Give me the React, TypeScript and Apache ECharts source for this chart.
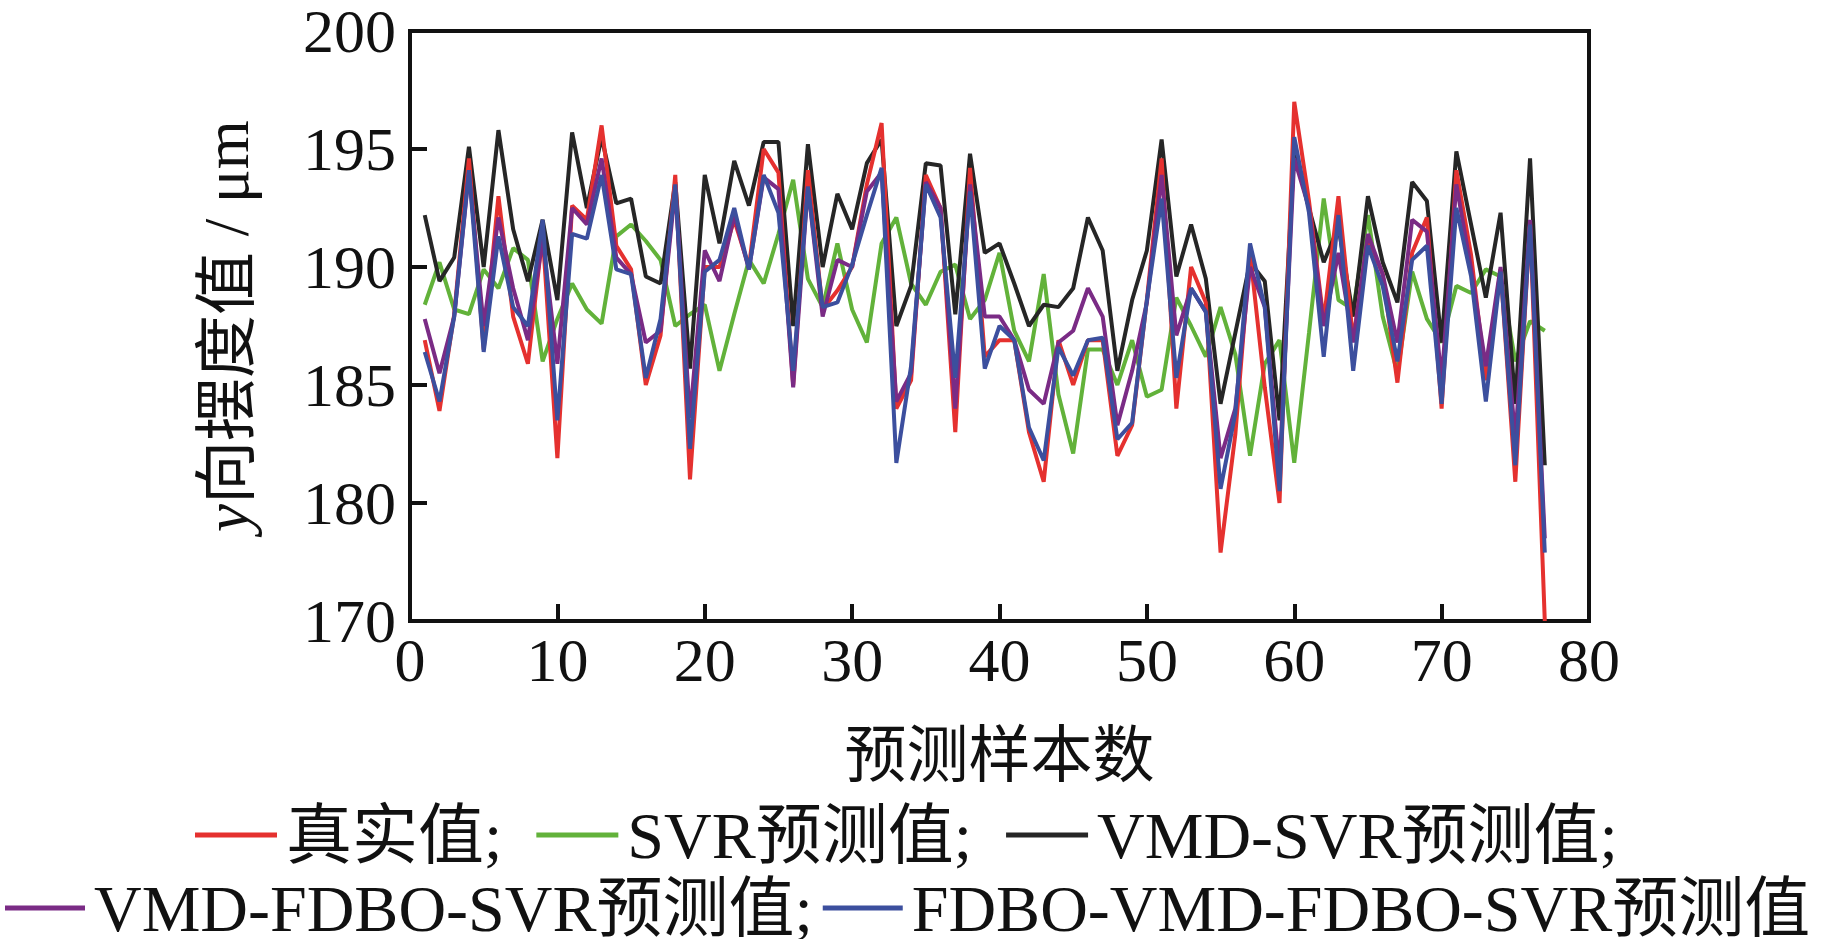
import React, { useEffect, useRef } from "react";
import * as echarts from "echarts";

// sample index is position+1 (1..77)
const trueValues = [
  186.9, 183.9, 188.0, 194.6, 186.5, 193.0, 187.9, 185.9, 191.4, 181.9,
  192.6, 192.0, 196.0, 190.9, 189.9, 185.0, 187.1, 193.9, 181.0, 190.0,
  190.0, 192.0, 190.0, 195.0, 194.0, 185.0, 194.1, 188.2, 189.0, 190.0,
  193.5, 196.1, 184.0, 185.2, 193.9, 192.5, 183.0, 194.2, 186.2, 186.9,
  186.9, 183.0, 180.9, 186.9, 185.0, 186.9, 186.9, 182.0, 183.3, 188.6,
  194.6, 184.0, 190.0, 188.5, 177.9, 182.9, 190.6, 184.9, 180.0, 197.0,
  192.8, 187.7, 193.0, 186.9, 191.2, 189.7, 185.1, 190.6, 192.1, 184.0,
  194.1, 190.5, 185.2, 189.9, 180.9, 191.9, 175.0,
];
const svrValues = [
  188.4, 190.2, 188.2, 188.0, 189.9, 189.1, 190.8, 190.3, 186.0, 187.8,
  189.3, 188.2, 187.6, 191.3, 191.8, 191.1, 190.3, 187.5, 188.0, 188.4,
  185.6, 188.0, 190.3, 189.3, 191.4, 193.7, 189.5, 188.3, 191.0, 188.2,
  186.8, 191.0, 192.1, 189.3, 188.4, 189.8, 190.1, 187.8, 188.6, 190.6,
  187.3, 186.0, 189.7, 184.6, 182.1, 186.5, 186.5, 185.0, 186.9, 184.5,
  184.8, 188.7, 187.5, 186.2, 188.3, 186.3, 182.0, 185.9, 186.9, 181.7,
  187.2, 192.9, 188.6, 188.2, 192.2, 187.9, 185.5, 189.8, 187.8, 186.8,
  189.2, 188.9, 189.9, 189.6, 186.0, 187.7, 187.3,
];
const vmdSvrValues = [
  192.2, 189.4, 190.4, 195.1, 190.0, 195.8, 191.6, 189.4, 192.0, 188.6,
  195.7, 192.5, 195.5, 192.7, 192.9, 189.6, 189.3, 193.6, 185.7, 193.9,
  191.0, 194.5, 192.6, 195.3, 195.3, 187.5, 195.2, 190.0, 193.1, 191.6,
  194.4, 195.4, 187.5, 189.2, 194.4, 194.3, 188.0, 194.8, 190.6, 191.0,
  189.3, 187.5, 188.4, 188.3, 189.1, 192.1, 190.7, 185.6, 188.6, 190.7,
  195.4, 189.6, 191.8, 189.5, 184.2, 187.2, 190.2, 189.4, 183.5, 194.9,
  192.5, 190.2, 191.7, 187.9, 193.0, 190.2, 188.5, 193.6, 192.8, 186.8,
  194.9, 191.8, 188.7, 192.3, 184.2, 194.6, 181.6,
];
const vmdFdboSvrValues = [
  187.8, 185.5, 187.9, 194.0, 187.5, 192.1, 189.1, 186.9, 191.2, 185.9,
  192.5, 191.8, 194.6, 190.4, 189.7, 186.8, 187.3, 193.3, 183.6, 190.7,
  189.4, 192.2, 189.9, 193.8, 193.3, 184.9, 193.4, 187.9, 190.3, 190.0,
  193.2, 194.0, 184.3, 185.5, 193.6, 192.5, 184.0, 193.5, 187.9, 187.9,
  186.9, 184.8, 184.2, 186.8, 187.3, 189.1, 187.9, 183.3, 185.6, 188.5,
  193.9, 187.1, 189.1, 188.1, 181.9, 184.0, 190.0, 188.3, 181.4, 194.6,
  192.5, 187.5, 190.6, 186.8, 191.4, 189.7, 186.8, 192.0, 191.5, 185.2,
  193.5, 189.9, 185.8, 190.0, 182.7, 192.0, 178.5,
];
const fdboVmdFdboSvrValues = [
  186.4, 184.3, 187.9, 194.1, 186.4, 191.3, 188.3, 187.5, 192.0, 183.5,
  191.4, 191.2, 193.9, 189.9, 189.7, 185.3, 187.8, 193.5, 182.3, 189.8,
  190.3, 192.5, 189.9, 193.9, 192.3, 185.6, 193.4, 188.3, 188.5, 190.1,
  192.2, 194.2, 181.7, 185.8, 193.5, 192.1, 185.3, 193.2, 185.7, 187.5,
  186.9, 183.2, 181.8, 186.6, 185.4, 186.9, 187.0, 182.7, 183.4, 188.6,
  192.9, 185.3, 189.1, 188.1, 180.6, 183.8, 191.0, 188.3, 180.5, 195.5,
  192.3, 186.2, 192.2, 185.6, 190.9, 189.2, 186.0, 190.3, 190.9, 184.2,
  192.5, 189.6, 184.3, 189.8, 181.6, 191.8, 177.9,
];

const seriesNames = [
  "真实值",
  "SVR预测值",
  "VMD-SVR预测值",
  "VMD-FDBO-SVR预测值",
  "FDBO-VMD-FDBO-SVR预测值",
];
const seriesColors = ["#e5312f", "#62b23a", "#262626", "#7a2b85", "#3c4f9e"];
const yTickLabels = ["170", "180", "185", "190", "195", "200"];

const SERIF = "'Liberation Serif', 'Times New Roman', 'Noto Sans CJK SC', serif";

export default function App() {
  const ref = useRef<HTMLDivElement>(null);
  useEffect(() => {
    if (!ref.current) return;
    const chart = echarts.init(ref.current, null, { renderer: "svg" });
    const datasets = [trueValues, svrValues, vmdSvrValues, vmdFdboSvrValues, fdboVmdFdboSvrValues];
    const drawOrder = [1, 2, 0, 3, 4];
    const series = drawOrder.map((k, z) => ({
      name: seriesNames[k],
      type: "line",
      data: datasets[k].map((v, i) => [i + 1, v]),
      showSymbol: false,
      symbol: "none",
      lineStyle: { color: seriesColors[k], width: 4 },
      itemStyle: { color: seriesColors[k] },
      z: 2 + z,
      clip: true,
    }));
    const legendText = {
      fontFamily: SERIF,
      fontSize: 66,
      color: "#111",
      padding: [0, 0, 0, 4],
    };
    chart.setOption({
      animation: false,
      backgroundColor: "#ffffff",
      grid: {
        left: 410,
        top: 19,
        width: 1179,
        height: 602,
        show: true,
        borderColor: "#111",
        borderWidth: 4,
        backgroundColor: "transparent",
      },
      legend: [
        {
          data: seriesNames.slice(0, 3),
          left: 190,
          top: 797,
          itemWidth: 82,
          itemHeight: 5,
          itemGap: 34,
          icon: "rect",
          textStyle: legendText,
          formatter: (n: string) => n + ";",
        },
        {
          data: seriesNames.slice(3),
          left: 0,
          top: 870,
          itemWidth: 80,
          itemHeight: 5,
          itemGap: 10,
          icon: "rect",
          textStyle: legendText,
          formatter: (n: string) => (n === seriesNames[3] ? n + ";" : n),
        },
      ],
      xAxis: {
        type: "value",
        min: 0,
        max: 80,
        interval: 10,
        name: "预测样本数",
        nameLocation: "middle",
        nameGap: 98,
        nameTextStyle: { fontFamily: "'Noto Sans CJK SC', sans-serif", fontSize: 62, color: "#111" },
        axisLine: { show: true, lineStyle: { color: "#111", width: 4 } },
        axisTick: { show: true, inside: true, length: 17, lineStyle: { color: "#111", width: 4 } },
        axisLabel: { fontFamily: SERIF, fontSize: 62, color: "#111", margin: 8 },
        splitLine: { show: false },
      },
      yAxis: {
        type: "value",
        min: 175,
        max: 200,
        interval: 5,
        name: "{i|y}向摆度值 / μm",
        nameLocation: "middle",
        nameRotate: 90,
        nameGap: 152,
        nameTextStyle: {
          fontFamily: SERIF,
          fontSize: 63,
          color: "#111",
          rich: {
            i: { fontFamily: SERIF, fontStyle: "italic", fontSize: 63, color: "#111" },
          },
        },
        axisLine: { show: true, lineStyle: { color: "#111", width: 4 } },
        axisTick: { show: true, inside: true, length: 17, lineStyle: { color: "#111", width: 4 } },
        axisLabel: {
          fontFamily: SERIF,
          fontSize: 62,
          color: "#111",
          margin: 14,
          formatter: (_v: number, i: number) => yTickLabels[i],
        },
        splitLine: { show: false },
      },
      series,
    });
    return () => chart.dispose();
  }, []);
  return (
    <div
      ref={ref}
      style={{ position: "fixed", left: 0, top: 0, width: 1822, height: 939, background: "#fff" }}
    />
  );
}
